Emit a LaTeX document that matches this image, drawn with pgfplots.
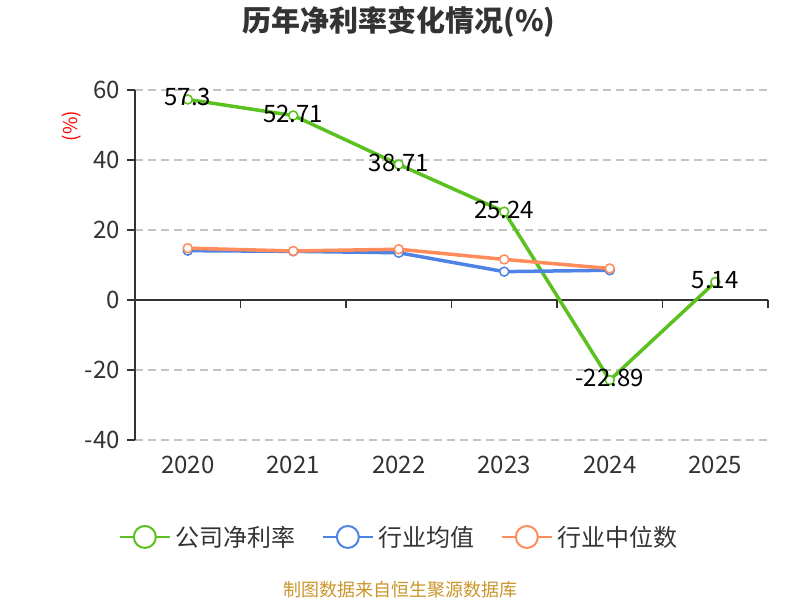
\documentclass[border=0pt]{standalone}
\usepackage{fontspec}
\setmainfont{Noto Sans CJK SC}
\usepackage{pgfplots}
\pgfplotsset{compat=1.18}

\definecolor{txt}{HTML}{333333}
\definecolor{gridc}{HTML}{C4C4C4}
\definecolor{cgreen}{HTML}{5AC11E}
\definecolor{cblue}{HTML}{4E82E4}
\definecolor{corange}{HTML}{FF8C5A}
\definecolor{foot}{HTML}{C9962A}

\begin{document}
\begin{tikzpicture}
\useasboundingbox (0,0) rectangle (800pt,600pt);
\node[font=\fontsize{29}{29}\selectfont\bfseries, text=txt] at (399pt,578pt) {历年净利率变化情况(\%)};
\node[font=\fontsize{19}{19}\selectfont, text=red, rotate=90] at (72pt,474pt) {(\%)};
\node[font=\fontsize{18}{18}\selectfont, text=foot] at (400pt,10pt) {制图数据来自恒生聚源数据库};

\begin{axis}[
    at={(135pt,160pt)}, anchor=south west,
    scale only axis, width=633pt, height=350pt,
    xmin=-0.5, xmax=5.5, ymin=-40, ymax=60,
    axis x line=middle, axis y line=left,
    axis line style={-, txt, line width=1.5pt},
    xtick={-0.5,0.5,1.5,2.5,3.5,4.5,5.5}, xticklabels={},
    ytick={-40,-20,0,20,40,60},
    tick align=outside, major tick length=8pt,
    every tick/.style={txt, line width=1.5pt},
    ymajorgrids, grid style={gridc, line width=1.2pt, dash pattern=on 8pt off 5pt},
    yticklabel style={font=\fontsize{24}{24}\selectfont, text=txt, inner sep=0pt, xshift=-7pt},
    /pgf/number format/assume math mode=true,
    clip=false,
    legend style={at={(0.42,-0.277)}, anchor=center, draw=none, fill=none,
        legend columns=3, font=\fontsize{24}{24}\selectfont, text=txt,
        /tikz/every even column/.append style={column sep=21pt},
        /tikz/every odd column/.append style={column sep=0pt},
        nodes={inner sep=0pt, inner xsep=5pt},
        legend cell align=left},
    legend image code/.code={
        \draw[#1, mark=none, line width=2pt] (0pt,0pt) -- (50pt,0pt);
        \draw[#1, mark=none, line width=2pt, fill=white] (25pt,0pt) circle (11pt);
    },
]
\addplot[cgreen, line width=3.5pt, mark=*, mark size=4.5pt,
    mark options={fill=white, line width=1.5pt},
    nodes near coords, point meta=explicit symbolic,
    every node near coord/.append style={anchor=center, yshift=2pt, text=black,
        font=\fontsize{24}{24}\selectfont}]
coordinates {(0,57.3)[57.3] (1,52.71)[52.71] (2,38.71)[38.71] (3,25.24)[25.24] (4,-22.89)[-22.89] (5,5.14)[5.14]};
\addlegendentry{公司净利率}
\addplot[cblue, line width=3.5pt, mark=*, mark size=4.5pt,
    mark options={fill=white, line width=1.5pt}]
coordinates {(0,14.1) (1,13.9) (2,13.5) (3,8.1) (4,8.5)};
\addlegendentry{行业均值}
\addplot[corange, line width=3.5pt, mark=*, mark size=4.5pt,
    mark options={fill=white, line width=1.5pt}]
coordinates {(0,14.8) (1,14.0) (2,14.5) (3,11.6) (4,9.0)};
\addlegendentry{行业中位数}

\node[font=\fontsize{24}{24}\selectfont, text=txt] at (axis cs:0,-40) [yshift=-25pt] {2020};
\node[font=\fontsize{24}{24}\selectfont, text=txt] at (axis cs:1,-40) [yshift=-25pt] {2021};
\node[font=\fontsize{24}{24}\selectfont, text=txt] at (axis cs:2,-40) [yshift=-25pt] {2022};
\node[font=\fontsize{24}{24}\selectfont, text=txt] at (axis cs:3,-40) [yshift=-25pt] {2023};
\node[font=\fontsize{24}{24}\selectfont, text=txt] at (axis cs:4,-40) [yshift=-25pt] {2024};
\node[font=\fontsize{24}{24}\selectfont, text=txt] at (axis cs:5,-40) [yshift=-25pt] {2025};
\end{axis}
\end{tikzpicture}
\end{document}
